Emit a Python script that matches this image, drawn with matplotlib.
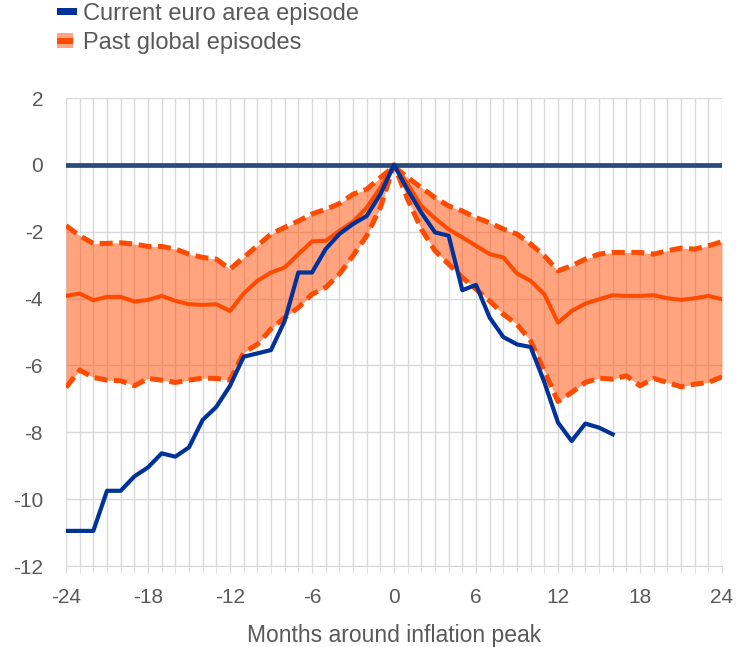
import numpy as np
import matplotlib
matplotlib.use("Agg")
import matplotlib.pyplot as plt
from matplotlib.patches import Rectangle
from matplotlib.legend_handler import HandlerBase

plt.rcParams['font.family'] = ['Liberation Sans', 'DejaVu Sans']

months = list(range(-24, 25))

current_months = list(range(-24, 17))
current_ea = [-10.95, -10.95, -10.95, -9.75, -9.75, -9.32, -9.05, -8.63, -8.73, -8.45,
              -7.63, -7.24, -6.61, -5.74, -5.64, -5.54, -4.67, -3.22, -3.22, -2.52,
              -2.07, -1.77, -1.53, -0.88, 0.0,
              -0.75, -1.43, -2.02, -2.12, -3.75, -3.59, -4.57, -5.15, -5.37, -5.45,
              -6.5, -7.71, -8.26, -7.74, -7.86, -8.06]

past_median = [-3.92, -3.85, -4.05, -3.95, -3.95, -4.09, -4.04, -3.92, -4.07, -4.17,
               -4.19, -4.17, -4.37, -3.85, -3.47, -3.22, -3.07, -2.67, -2.29, -2.27,
               -1.97, -1.70, -1.28, -0.68, 0.0,
               -0.58, -1.23, -1.60, -1.93, -2.17, -2.42, -2.67, -2.77, -3.25, -3.47,
               -3.87, -4.72, -4.37, -4.15, -4.02, -3.90, -3.92, -3.92, -3.90, -3.99,
               -4.04, -3.99, -3.92, -4.02]

past_upper = [-1.82, -2.12, -2.35, -2.35, -2.33, -2.37, -2.44, -2.44, -2.52, -2.67,
              -2.77, -2.82, -3.12, -2.77, -2.42, -2.07, -1.87, -1.68, -1.47, -1.33,
              -1.16, -0.88, -0.73, -0.38, -0.05,
              -0.38, -0.68, -0.98, -1.23, -1.38, -1.58, -1.73, -1.92, -2.07, -2.37,
              -2.72, -3.17, -3.02, -2.82, -2.67, -2.62, -2.62, -2.62, -2.67, -2.57,
              -2.49, -2.52, -2.42, -2.30]

past_lower = [-6.66, -6.14, -6.36, -6.44, -6.46, -6.61, -6.39, -6.44, -6.51, -6.44,
              -6.38, -6.39, -6.44, -5.62, -5.37, -4.91, -4.57, -4.27, -3.87, -3.67,
              -3.27, -2.72, -2.12, -1.28, 0.0,
              -1.03, -1.92, -2.57, -2.97, -3.37, -3.72, -4.07, -4.47, -4.77, -5.27,
              -6.16, -7.08, -6.81, -6.51, -6.38, -6.41, -6.31, -6.61, -6.39, -6.51,
              -6.64, -6.56, -6.51, -6.34]

xticks = [-24, -18, -12, -6, 0, 6, 12, 18, 24]
yticks = [2, 0, -2, -4, -6, -8, -10, -12]
series_labels = ['Current euro area episode', 'Past global episodes']

BLUE = '#003299'
ORANGE = '#FF4B00'
LIGHT = '#FFA57F'
NAVY = '#2b4a7c'
GRAY = '#595959'
GRID = '#d9d9d9'

fig = plt.figure(figsize=(7.38, 6.47), dpi=100)
ax = fig.add_axes([66/738, 1-566/647, (722-66)/738, (566-98)/647])

ax.set_xlim(-24, 24)
ax.set_ylim(-12, 2)

ax.set_xticks(months, minor=True)
ax.set_xticks(xticks)
ax.set_yticks(yticks)
ax.set_xticklabels([str(t) for t in xticks])
ax.set_yticklabels([str(t) for t in yticks])
ax.grid(True, which='both', axis='x', color=GRID, lw=1)
ax.grid(True, which='major', axis='y', color=GRID, lw=1)
ax.set_axisbelow(True)
for s in ['top', 'right', 'left']:
    ax.spines[s].set_visible(False)
ax.spines['bottom'].set_color(GRID)
ax.tick_params(axis='x', which='both', length=5, color=GRID, labelsize=15, labelcolor=GRAY, pad=11)
ax.tick_params(axis='y', length=0, labelsize=15, labelcolor=GRAY, pad=16.5)

ax.fill_between(months, past_lower, past_upper, color=ORANGE, alpha=0.5, lw=0, zorder=2)
ax.plot(months, past_upper, color=ORANGE, lw=3.6, dashes=(2.6, 1.3), zorder=3)
ax.plot(months, past_lower, color=ORANGE, lw=3.6, dashes=(2.6, 1.3), zorder=3)
ax.plot(months, past_median, color=ORANGE, lw=2.9, zorder=4)
ax.axhline(0, color=NAVY, lw=3.4, zorder=5)
ax.plot(current_months, current_ea, color=BLUE, lw=3.0, zorder=6)

ax.set_xlabel('Months around inflation peak', fontsize=16.5, color=GRAY, labelpad=12)


class HandlerBlue(HandlerBase):
    def create_artists(self, legend, orig_handle, xdescent, ydescent, width, height, fontsize, trans):
        h = height * 0.45
        r = Rectangle((-xdescent, -ydescent + (height - h) / 2), width, h,
                      facecolor=BLUE, edgecolor='none', transform=trans)
        return [r]


class HandlerPast(HandlerBase):
    def create_artists(self, legend, orig_handle, xdescent, ydescent, width, height, fontsize, trans):
        w = width * 0.78
        h1 = height * 0.9
        h2 = height * 0.38
        r1 = Rectangle((-xdescent, -ydescent + (height - h1) / 2), w, h1,
                       facecolor=LIGHT, edgecolor='none', transform=trans)
        r2 = Rectangle((-xdescent, -ydescent + (height - h2) / 2), w, h2,
                       facecolor=ORANGE, edgecolor='none', transform=trans)
        return [r1, r2]


class Blue: pass
class Past: pass

fig.legend([Blue(), Past()], series_labels,
           handler_map={Blue: HandlerBlue(), Past: HandlerPast()},
           loc='upper left', bbox_to_anchor=(57/738, 1 - 3/647), frameon=False,
           fontsize=17, labelcolor=GRAY, handlelength=0.85, handleheight=0.7,
           handletextpad=0.27, labelspacing=0.3, borderpad=0.0, borderaxespad=0.0)

fig.savefig('out.png', dpi=100)
